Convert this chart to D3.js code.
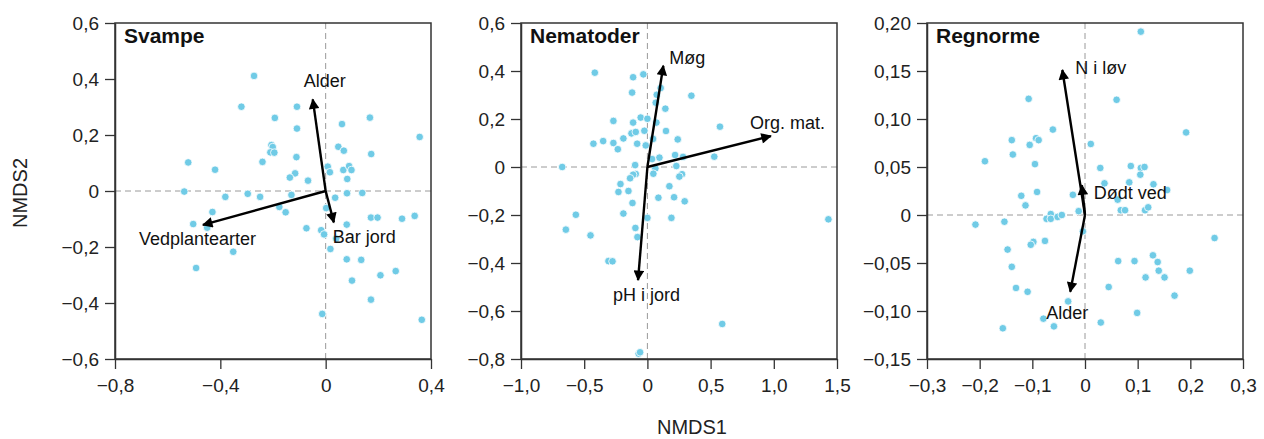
<!DOCTYPE html>
<html>
<head>
<meta charset="utf-8">
<script src="https://cdn.jsdelivr.net/npm/d3@7"></script>
<style>
  body { margin: 0; background: #fff; }
  svg { font-family: "Liberation Sans", Arial, sans-serif; }
</style>
</head>
<body>
<div id="chart"></div>
<script>
// ---- data ----
var svampePts = [
  [-0.272,0.411],[-0.320,0.301],[-0.109,0.301],[-0.193,0.261],[-0.109,0.223],[0.062,0.239],
  [0.168,0.262],[0.357,0.193],[-0.206,0.164],[-0.201,0.157],[-0.210,0.138],[-0.195,0.137],
  [-0.111,0.121],[0.048,0.158],[0.069,0.144],[0.173,0.132],[-0.522,0.102],[-0.420,0.076],
  [-0.240,0.104],[0.008,0.087],[0.016,0.067],[0.067,0.075],[0.089,0.089],[0.098,0.075],
  [0.082,0.043],[-0.116,0.063],[-0.136,0.048],[-0.067,0.037],[-0.537,-0.002],[-0.381,-0.021],
  [-0.296,-0.010],[-0.249,-0.021],[-0.130,-0.014],[0.036,-0.024],[0.081,-0.008],[0.139,-0.007],
  [-0.430,-0.075],[-0.176,-0.057],[-0.152,-0.076],[0.002,-0.061],[-0.503,-0.118],[-0.450,-0.131],
  [-0.073,-0.133],[-0.017,-0.140],[-0.006,-0.155],[0.080,-0.120],[0.172,-0.095],[0.197,-0.095],
  [0.290,-0.099],[0.338,-0.089],[-0.351,-0.217],[0.018,-0.207],[0.080,-0.244],[0.135,-0.246],
  [-0.492,-0.275],[0.100,-0.320],[0.208,-0.301],[0.266,-0.286],[0.172,-0.388],[-0.013,-0.439],
  [0.365,-0.460],[0.040,-0.170]
];
var nematoderPts = [
  [-0.416,0.393],[-0.113,0.374],[-0.032,0.386],[-0.121,0.310],[0.105,0.329],[0.074,0.301],
  [0.066,0.268],[0.348,0.297],[0.142,0.243],[-0.269,0.192],[-0.113,0.185],[-0.053,0.206],
  [0.000,0.201],[0.071,0.185],[0.574,0.168],[-0.427,0.097],[-0.350,0.108],[-0.269,0.100],
  [-0.234,0.074],[-0.190,0.119],[-0.126,0.140],[-0.092,0.146],[-0.024,0.151],[-0.081,0.097],
  [-0.013,0.090],[0.045,0.117],[0.147,0.150],[0.240,0.115],[0.219,0.050],[0.282,0.042],
  [0.529,0.043],[0.095,0.039],[0.037,0.033],[-0.674,0.000],[-0.097,0.008],[0.229,0.004],
  [0.063,-0.006],[-0.092,-0.029],[-0.113,-0.032],[0.047,-0.028],[0.274,-0.030],[0.253,-0.040],
  [-0.137,-0.047],[-0.213,-0.071],[0.174,-0.080],[-0.150,-0.100],[-0.229,-0.104],[0.087,-0.128],
  [0.211,-0.126],[0.295,-0.143],[-0.118,-0.150],[-0.190,-0.194],[0.000,-0.212],[0.190,-0.212],
  [-0.566,-0.199],[-0.645,-0.261],[-0.450,-0.285],[-0.095,-0.254],[-0.079,-0.292],[-0.308,-0.392],
  [-0.276,-0.393],[1.432,-0.218],[0.592,-0.654],[-0.069,-0.778],[-0.058,-0.772]
];
var regnormePts = [
  [0.106,0.191],[-0.107,0.121],[0.060,0.120],[-0.061,0.089],[0.192,0.086],[-0.139,0.078],
  [-0.093,0.080],[-0.088,0.078],[-0.105,0.073],[0.011,0.074],[-0.137,0.063],[-0.190,0.056],
  [-0.095,0.053],[0.029,0.049],[0.087,0.051],[0.106,0.049],[0.113,0.050],[0.105,0.042],
  [0.037,0.033],[0.084,0.034],[0.130,0.032],[0.156,0.026],[-0.121,0.020],[-0.091,0.024],
  [-0.023,0.021],[0.062,0.016],[-0.113,0.010],[0.068,0.005],[0.076,0.005],[0.114,0.005],
  [0.120,0.008],[-0.065,0.001],[-0.073,-0.004],[-0.065,-0.004],[-0.052,-0.002],[-0.044,0.000],
  [-0.012,0.004],[-0.208,-0.010],[-0.153,-0.007],[-0.004,-0.017],[-0.098,-0.028],[-0.103,-0.031],
  [-0.076,-0.027],[0.246,-0.024],[-0.147,-0.036],[0.129,-0.042],[0.063,-0.048],[0.094,-0.048],
  [0.138,-0.049],[0.140,-0.058],[0.199,-0.058],[-0.139,-0.054],[0.115,-0.065],[0.151,-0.065],
  [-0.131,-0.076],[-0.109,-0.080],[0.045,-0.075],[0.170,-0.084],[-0.032,-0.090],[0.099,-0.102],
  [-0.079,-0.108],[-0.059,-0.116],[0.030,-0.112],[-0.156,-0.118]
];

var svampeVec = [["Alder",-0.049,0.327],["Vedplantearter",-0.466,-0.121],["Bar jord",0.031,-0.112]];
var nematoderVec = [["Møg",0.126,0.422],["Org. mat.",0.977,0.129],["pH i jord",-0.074,-0.471]];
var regnormeVec = [["N i løv",-0.043,0.151],["Dødt ved",-0.006,0.031],["Alder",-0.028,-0.080]];

var svampeXTicks = [-0.8,-0.4,0,0.4];
var svampeYTicks = [-0.6,-0.4,-0.2,0,0.2,0.4,0.6];
var nematoderXTicks = [-1.0,-0.5,0,0.5,1.0,1.5];
var nematoderYTicks = [-0.8,-0.6,-0.4,-0.2,0,0.2,0.4,0.6];
var regnormeXTicks = [-0.3,-0.2,-0.1,0,0.1,0.2,0.3];
var regnormeYTicks = [-0.15,-0.10,-0.05,0,0.05,0.10,0.15,0.20];

// ---- layout ----
var W = 1264, H = 439;
var plotTop = 23, plotBottom = 359;
var panels = [
  {title:"Svampe", pts:svampePts, vec:svampeVec, xt:svampeXTicks, yt:svampeYTicks, xd:1, yd:1,
   left:115, right:431,
   lab:{"Alder":[12,-12,"middle"],"Vedplantearter":[-64,20,"start"],"Bar jord":[-1,21,"start"]}},
  {title:"Nematoder", pts:nematoderPts, vec:nematoderVec, xt:nematoderXTicks, yt:nematoderYTicks, xd:1, yd:1,
   left:521, right:837,
   lab:{"Møg":[6,-2,"start"],"Org. mat.":[-21,-7,"start"],"pH i jord":[-25,21,"start"]}},
  {title:"Regnorme", pts:regnormePts, vec:regnormeVec, xt:regnormeXTicks, yt:regnormeYTicks, xd:1, yd:2,
   left:927, right:1243,
   lab:{"N i løv":[13,4,"start"],"Dødt ved":[12,14,"start"],"Alder":[-24,27,"start"]}}
];

var dotColor = "#70cbe6";

function fmt(dec) {
  return function(d) {
    if (Math.abs(d) < 1e-9) return "0";
    return d3.format("." + dec + "f")(d).replace(".", ",");
  };
}

var svg = d3.select("#chart").append("svg")
  .attr("width", W).attr("height", H);

svg.append("defs").append("marker")
  .attr("id", "arr")
  .attr("viewBox", "0 0 10 10")
  .attr("refX", 9).attr("refY", 5)
  .attr("markerWidth", 5.6).attr("markerHeight", 4.4)
  .attr("markerUnits", "strokeWidth")
  .attr("orient", "auto")
  .append("path")
  .attr("d", "M0,0L10,5L0,10Z")
  .attr("fill", "#000");

panels.forEach(function(p) {
  var x = d3.scaleLinear()
    .domain([p.xt[0], p.xt[p.xt.length-1]])
    .range([p.left, p.right]);
  var y = d3.scaleLinear()
    .domain([p.yt[0], p.yt[p.yt.length-1]])
    .range([plotBottom, plotTop]);

  var g = svg.append("g");

  // zero lines
  g.append("line")
    .attr("x1", x(0)).attr("x2", x(0)).attr("y1", plotTop).attr("y2", plotBottom)
    .attr("stroke", "#9a9a9a").attr("stroke-width", 1).attr("stroke-dasharray", "6,4");
  g.append("line")
    .attr("x1", p.left).attr("x2", p.right).attr("y1", y(0)).attr("y2", y(0))
    .attr("stroke", "#9a9a9a").attr("stroke-width", 1).attr("stroke-dasharray", "6,4");

  // points
  g.selectAll("circle.pt")
    .data(p.pts)
    .enter().append("circle")
    .attr("class", "pt")
    .attr("cx", function(d) { return x(d[0]); })
    .attr("cy", function(d) { return y(d[1]); })
    .attr("r", 3.8)
    .attr("fill", dotColor)
    .attr("stroke", "#fff")
    .attr("stroke-width", 0.8);

  // vectors
  g.selectAll("line.vec")
    .data(p.vec)
    .enter().append("line")
    .attr("class", "vec")
    .attr("x1", x(0)).attr("y1", y(0))
    .attr("x2", function(d) { return x(d[1]); })
    .attr("y2", function(d) { return y(d[2]); })
    .attr("stroke", "#000")
    .attr("stroke-width", 2.4)
    .attr("marker-end", "url(#arr)");

  g.selectAll("text.vlab")
    .data(p.vec)
    .enter().append("text")
    .attr("class", "vlab")
    .attr("x", function(d) { return x(d[1]) + p.lab[d[0]][0]; })
    .attr("y", function(d) { return y(d[2]) + p.lab[d[0]][1]; })
    .attr("text-anchor", function(d) { return p.lab[d[0]][2]; })
    .attr("font-size", 18)
    .attr("fill", "#111")
    .text(function(d) { return d[0]; });

  // frame
  g.append("rect")
    .attr("x", p.left).attr("y", plotTop)
    .attr("width", p.right - p.left).attr("height", plotBottom - plotTop)
    .attr("fill", "none").attr("stroke", "#333").attr("stroke-width", 1.5);

  // axes
  var xAxis = d3.axisBottom(x).tickValues(p.xt).tickFormat(fmt(p.xd))
    .tickSize(10).tickSizeOuter(0).tickPadding(10);
  var yAxis = d3.axisLeft(y).tickValues(p.yt).tickFormat(fmt(p.yd))
    .tickSize(10).tickSizeOuter(0).tickPadding(6);

  var ax = g.append("g").attr("transform", "translate(0," + plotBottom + ")").call(xAxis);
  var ay = g.append("g").attr("transform", "translate(" + p.left + ",0)").call(yAxis);
  [ax, ay].forEach(function(a) {
    a.select(".domain").attr("stroke", "#333").attr("stroke-width", 1.5);
    a.selectAll(".tick line").attr("stroke", "#333").attr("stroke-width", 1.3);
    a.selectAll("text").attr("font-size", 19).attr("fill", "#222")
      .attr("font-family", "Liberation Sans, Arial, sans-serif");
  });

  // title
  g.append("text")
    .attr("x", p.left + 9).attr("y", 43)
    .attr("font-size", 21).attr("font-weight", "bold").attr("fill", "#111")
    .text(p.title);
});

// axis titles
svg.append("text")
  .attr("x", 692).attr("y", 434)
  .attr("text-anchor", "middle").attr("font-size", 20).attr("fill", "#222")
  .text("NMDS1");
svg.append("text")
  .attr("transform", "translate(27,193) rotate(-90)")
  .attr("text-anchor", "middle").attr("font-size", 20).attr("fill", "#222")
  .text("NMDS2");
</script>
</body>
</html>
